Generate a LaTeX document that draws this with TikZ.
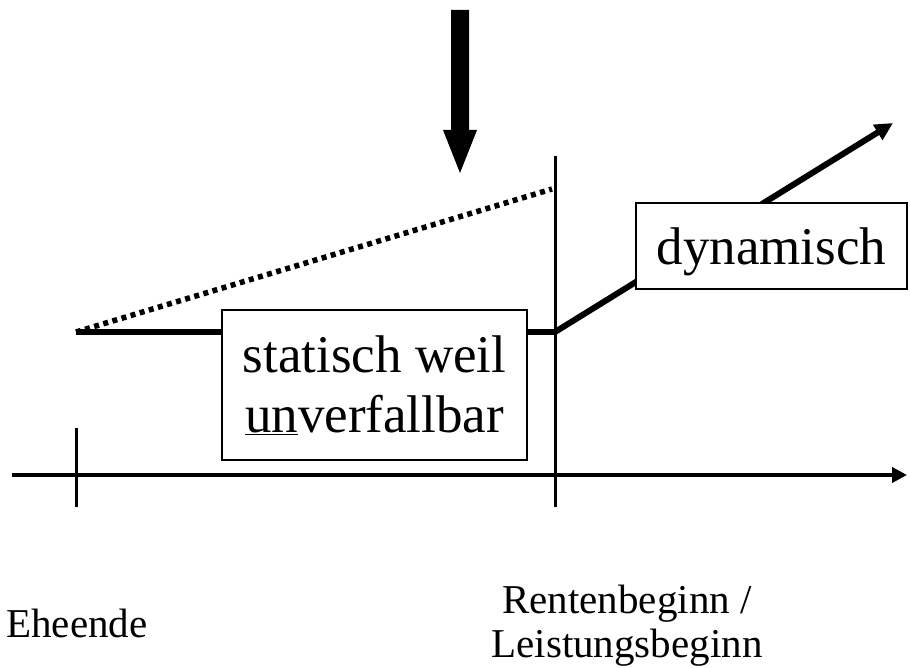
\documentclass[tikz,border=0pt]{standalone}
\usepackage{fontspec}
\setmainfont{Liberation Serif}
\usetikzlibrary{arrows.meta}
\begin{document}
\begin{tikzpicture}[x=1pt,y=-1pt,
  textbox/.style={draw, line width=2pt, fill=white, inner sep=0pt, align=center,
    font=\fontsize{53}{60}\selectfont},
  lab/.style={inner sep=0pt, align=center, font=\fontsize{41}{44}\selectfont},
  axisline/.style={line width=4pt},
  tickline/.style={line width=3pt},
  valueline/.style={line width=6pt},
  dotline/.style={line width=5.5pt, dash pattern=on 5pt off 4.5pt}
]
\useasboundingbox (0,0) rectangle (910,668);

% coordinates
\coordinate (ax0) at (12,475);
\coordinate (ax1) at (907,475);
\coordinate (t1a) at (76,428);
\coordinate (t1b) at (76,507);
\coordinate (t2a) at (555,156);
\coordinate (t2b) at (555,507);
\coordinate (s0) at (76,332);
\coordinate (s1) at (555,332);
\coordinate (dtip) at (893,123);
\coordinate (dotend) at (552,189);

% axis and ticks
\draw[axisline, -{Triangle[length=15pt,width=15pt]}] (ax0) -- (ax1);
\draw[tickline] (t1a) -- (t1b);
\draw[tickline] (t2a) -- (t2b);

% dotted line
\draw[dotline] (s0) -- (dotend);

% value lines
\draw[valueline] (s0) -- (s1);
\draw[valueline, -{Triangle[length=18pt,width=17pt]}] (s1) -- (dtip);

% big arrow
\fill (451,10) -- (469,10) -- (469,130) -- (477,130) -- (460,173) -- (443,130) -- (451,130) -- cycle;

% boxes
\node[textbox, minimum width=305pt, minimum height=150pt] (stat) at (374.5,385)
  {statisch weil\\\underline{un}verfallbar};
\node[textbox, minimum width=271pt, minimum height=86pt, text height=49pt, text depth=11pt]
  (dyn) at (771.5,246) {dynamisch};

% labels
\node[lab, anchor=base] (ehe) at (77,637) {Eheende};
\node[lab] (rente) at (627,626) {Rentenbeginn /\\Leistungsbeginn};
\end{tikzpicture}
\end{document}
